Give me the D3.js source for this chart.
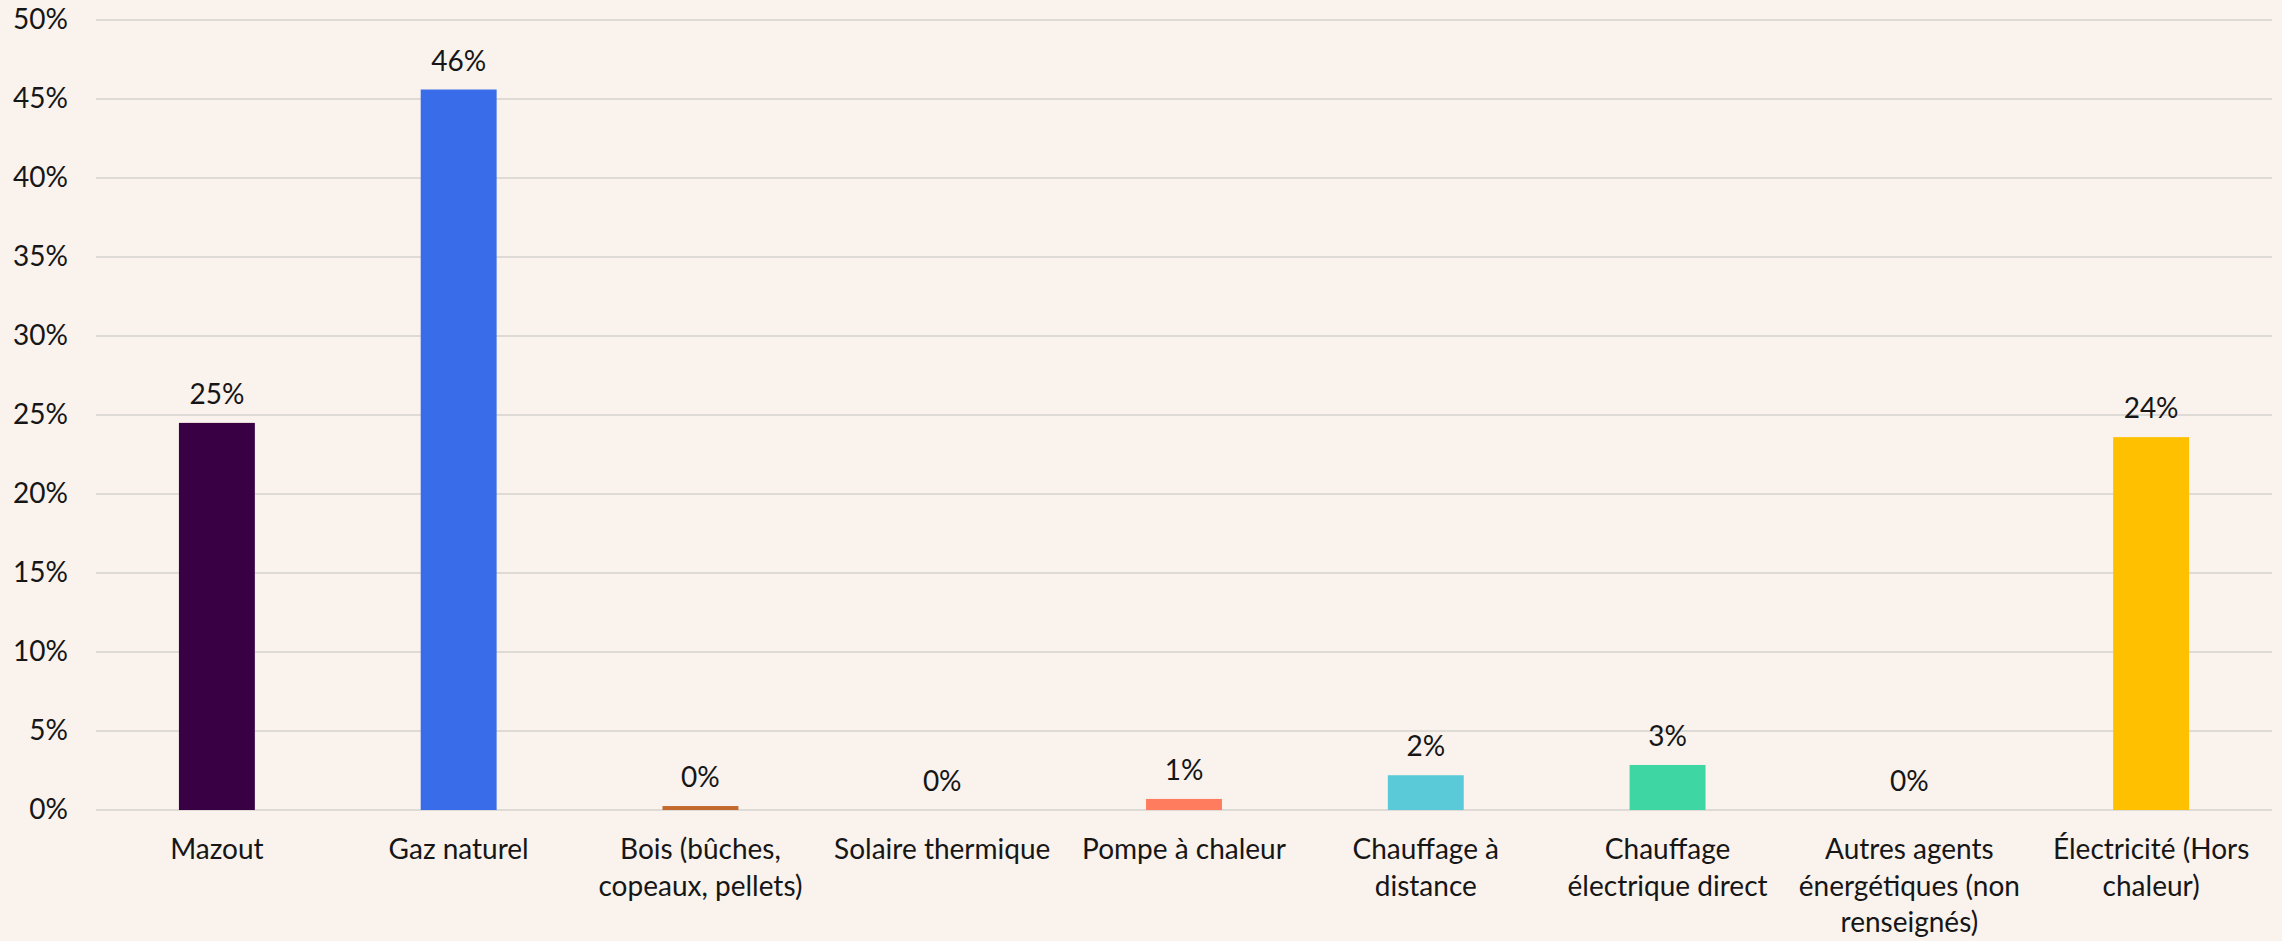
<!DOCTYPE html>
<html>
<head>
<meta charset="utf-8">
<script src="https://cdn.jsdelivr.net/npm/d3@7"></script>
<style>
  html, body { margin: 0; padding: 0; background: #f9f2ed; }
  svg { display: block; }
  text { font-family: Lato, "Noto Sans", sans-serif; fill: #161616; }
</style>
</head>
<body>
<svg id="chart" width="2282" height="941"></svg>
<script>
const categories = [
  "Mazout",
  "Gaz naturel",
  "Bois (bûches,\ncopeaux, pellets)",
  "Solaire thermique",
  "Pompe à chaleur",
  "Chauffage à\ndistance",
  "Chauffage\nélectrique direct",
  "Autres agents\nénergétiques (non\nrenseignés)",
  "Électricité (Hors\nchaleur)"
];
const values = [24.5, 45.6, 0.25, 0, 0.7, 2.2, 2.85, 0, 23.6];
const valueLabels = ["25%", "46%", "0%", "0%", "1%", "2%", "3%", "0%", "24%"];
const colors = ["#3a0044", "#386ce9", "#c4692e", "#f2b134", "#ff7c5e", "#5acad8", "#3ed6a2", "#8c8c8c", "#ffc000"];
const yTicks = [0, 5, 10, 15, 20, 25, 30, 35, 40, 45, 50];

const W = 2282, H = 941;
const margin = { left: 96, right: 10, top: 20, bottom: 131 };
const svg = d3.select("#chart");

const x = d3.scaleBand()
  .domain(categories)
  .range([margin.left, W - margin.right])
  .paddingInner(0.686)
  .paddingOuter(0.343);

const y = d3.scaleLinear()
  .domain([0, 50])
  .range([H - margin.bottom, margin.top]);

// gridlines
svg.append("g")
  .selectAll("line")
  .data(yTicks)
  .join("line")
  .attr("x1", margin.left)
  .attr("x2", W - margin.right)
  .attr("y1", d => y(d))
  .attr("y2", d => y(d))
  .attr("stroke", "#dedad6")
  .attr("stroke-width", 2);

// y axis labels
const yAxis = d3.axisLeft(y).tickValues(yTicks).tickFormat(d => d + "%").tickSize(0).tickPadding(0);
const yg = svg.append("g").attr("transform", `translate(68,0)`).call(yAxis);
yg.select(".domain").remove();
yg.selectAll("text")
  .attr("font-size", 28)
  .attr("font-family", "Lato, 'Noto Sans', sans-serif")
  .attr("fill", "#161616");

// bars
svg.append("g")
  .selectAll("rect")
  .data(values)
  .join("rect")
  .attr("x", (d, i) => x(categories[i]))
  .attr("width", x.bandwidth())
  .attr("y", d => y(d))
  .attr("height", d => y(0) - y(d))
  .attr("fill", (d, i) => colors[i]);

// value labels
svg.append("g")
  .selectAll("text")
  .data(values)
  .join("text")
  .attr("x", (d, i) => x(categories[i]) + x.bandwidth() / 2)
  .attr("y", d => y(d) - 19)
  .attr("text-anchor", "middle")
  .attr("font-size", 28)
  .text((d, i) => valueLabels[i]);

// x axis labels
const xAxis = d3.axisBottom(x).tickSize(0).tickPadding(0).tickFormat("");
const xg = svg.append("g").attr("transform", `translate(0,${y(0)})`).call(xAxis);
xg.select(".domain").remove();
xg.selectAll(".tick").each(function(d) {
  const t = d3.select(this).append("text")
    .attr("text-anchor", "middle")
    .attr("font-size", 28)
    .attr("font-family", "Lato, 'Noto Sans', sans-serif")
    .attr("fill", "#161616");
  d.split("\n").forEach((line, k) => {
    t.append("tspan").attr("x", 0).attr("y", 49 + k * 36.5).text(line);
  });
});
</script>
</body>
</html>
